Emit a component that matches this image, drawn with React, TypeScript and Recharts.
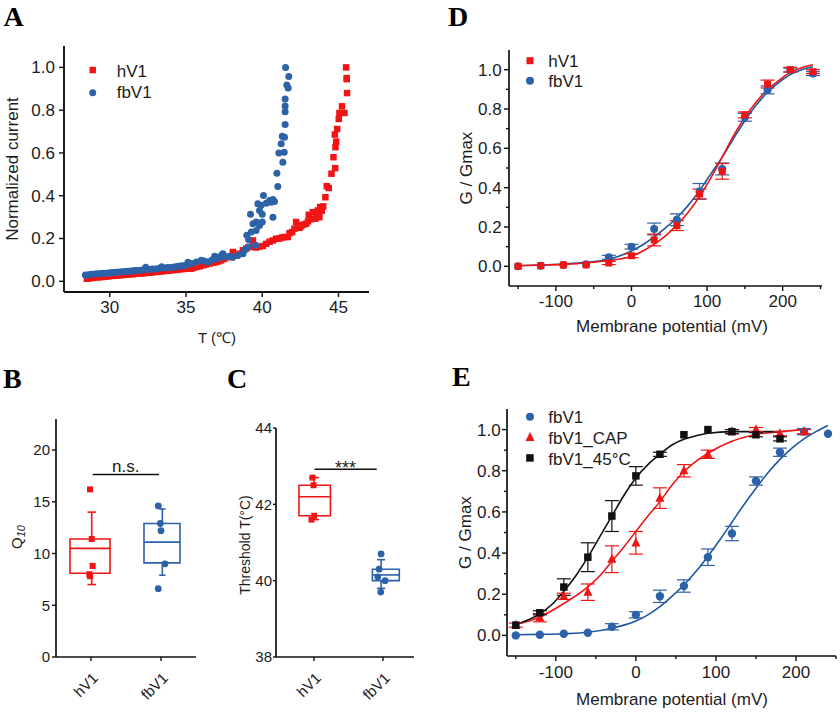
import React from 'react';
import {
  ScatterChart,
  ComposedChart,
  Scatter,
  Line,
  XAxis,
  YAxis,
  ErrorBar,
  ReferenceArea,
  ReferenceLine,
} from 'recharts';

const RED = '#f01515';
const BLUE = '#2d62a8';
const BLACK = '#111111';
const TXT = '#1c1c1c';
const SANS = '"Liberation Sans", Arial, Helvetica, sans-serif';
const SERIF = '"Liberation Serif", "Times New Roman", serif';

// ---------------- Panel A : normalized current vs temperature ----------------
const A_HV1: [number, number][] = [
  [28.5, 0.012], [28.7, 0.014], [28.9, 0.016], [29.1, 0.018], [29.3, 0.019], [29.5, 0.02], [29.7, 0.022],
  [29.9, 0.023], [30.1, 0.025], [30.3, 0.026], [30.5, 0.027], [30.7, 0.028], [30.9, 0.03], [31.1, 0.031],
  [31.3, 0.032], [31.5, 0.033], [31.7, 0.035], [31.9, 0.036], [32.1, 0.037], [32.3, 0.038], [32.5, 0.04],
  [32.7, 0.041], [32.9, 0.043], [33.1, 0.044], [33.3, 0.046], [33.5, 0.047], [33.7, 0.049], [33.9, 0.05],
  [34.1, 0.052], [34.3, 0.053], [34.5, 0.055], [34.7, 0.057], [34.9, 0.058], [35.1, 0.06], [35.35, 0.059],
  [35.5, 0.064], [35.68, 0.067], [35.9, 0.07], [36.11, 0.075], [36.3, 0.078], [36.55, 0.083], [36.8, 0.087],
  [36.99, 0.09], [37.15, 0.094], [37.31, 0.098], [37.5, 0.105], [37.64, 0.113], [37.97, 0.113], [38.07, 0.137],
  [38.29, 0.121], [38.51, 0.129], [38.73, 0.145], [38.95, 0.153], [39.17, 0.16], [39.39, 0.191], [39.39, 0.163],
  [39.6, 0.158], [39.82, 0.162], [40.04, 0.165], [40.26, 0.175], [40.48, 0.185], [40.7, 0.191], [40.91, 0.199],
  [41.13, 0.2], [41.3, 0.205], [41.46, 0.207], [41.67, 0.207], [41.79, 0.225], [41.96, 0.23], [42.11, 0.246],
  [42.22, 0.277], [42.33, 0.261], [42.45, 0.25], [42.55, 0.258], [42.7, 0.265], [42.88, 0.269], [43.0, 0.28],
  [43.05, 0.311], [43.2, 0.29], [43.31, 0.323], [43.49, 0.293], [43.6, 0.31], [43.64, 0.331], [43.75, 0.3],
  [43.8, 0.347], [43.9, 0.33], [44.0, 0.35], [44.14, 0.393], [44.23, 0.445], [44.36, 0.436], [44.54, 0.503],
  [44.67, 0.58], [44.78, 0.529], [44.8, 0.627], [44.85, 0.653], [44.76, 0.686], [44.91, 0.712], [45.02, 0.759],
  [45.06, 0.787], [45.23, 0.818], [45.39, 0.787], [45.56, 0.88], [45.54, 0.945], [45.54, 0.95], [45.5, 1.0],
];
const A_FBV1: [number, number][] = [
  [28.4, 0.03], [28.6, 0.031], [28.8, 0.033], [29.0, 0.034], [29.2, 0.035], [29.4, 0.036], [29.6, 0.038],
  [29.8, 0.038], [30.0, 0.04], [30.2, 0.041], [30.4, 0.042], [30.6, 0.043], [30.8, 0.045], [31.0, 0.046],
  [31.2, 0.047], [31.4, 0.048], [31.6, 0.05], [31.8, 0.051], [32.0, 0.052], [32.2, 0.054], [32.36, 0.066],
  [32.6, 0.055], [32.8, 0.057], [33.0, 0.058], [33.2, 0.06], [33.4, 0.068], [33.6, 0.062], [33.8, 0.064],
  [34.0, 0.065], [34.2, 0.067], [34.4, 0.069], [34.6, 0.071], [34.8, 0.073], [35.0, 0.075], [35.13, 0.089],
  [35.35, 0.083], [35.68, 0.09], [36.0, 0.098], [36.2, 0.095], [36.44, 0.09], [36.7, 0.1], [36.88, 0.117],
  [36.99, 0.106], [37.2, 0.11], [37.31, 0.121], [37.42, 0.129], [37.6, 0.115], [37.86, 0.117], [38.07, 0.113],
  [38.4, 0.121], [38.73, 0.129], [38.84, 0.145], [38.99, 0.215], [39.06, 0.16], [39.1, 0.195], [39.23, 0.313],
  [39.28, 0.23], [39.39, 0.269], [39.56, 0.168], [39.6, 0.238], [39.6, 0.277], [39.71, 0.363], [39.82, 0.261],
  [39.82, 0.331], [39.93, 0.355], [40.0, 0.277], [40.0, 0.313], [40.08, 0.401], [40.26, 0.365], [40.48, 0.378],
  [40.59, 0.37], [40.7, 0.383], [40.7, 0.3], [40.8, 0.373], [40.96, 0.505], [41.02, 0.443], [41.09, 0.6],
  [41.24, 0.643], [41.31, 0.678], [41.35, 0.557], [41.44, 0.603], [41.46, 0.673], [41.5, 0.733], [41.5, 0.793],
  [41.5, 0.82], [41.5, 0.852], [41.61, 0.918], [41.7, 0.904], [41.74, 0.958], [41.53, 1.0],
];
const A_X_TICKS = [30, 35, 40, 45];
const A_Y_TICKS = [0, 0.2, 0.4, 0.6, 0.8, 1.0];
const A_LEGEND = ['hV1', 'fbV1'];

// ---------------- Panel B : Q10 ----------------
const CATEGORIES = ['hV1', 'fbV1'];
const B_HV1 = [16.2, 11.4, 8.8, 8.0, 7.8];
const B_FBV1 = [14.6, 12.9, 12.2, 9.0, 6.6];
const B_HV1_JITTER = [0.486, 0.51, 0.524, 0.476, 0.486];
const B_FBV1_JITTER = [1.461, 1.49, 1.5, 1.557, 1.461];
const B_STATS = [
  { min: 7.0, q1: 8.1, median: 10.5, q3: 11.4, max: 14.0 },
  { min: 7.9, q1: 9.1, median: 11.1, q3: 12.9, max: 14.3 },
];
const B_Y_TICKS = [0, 5, 10, 15, 20];
const B_SIG = { label: 'n.s.', from: 0.524, to: 1.471, level: 17.64 };

// ---------------- Panel C : threshold temperature ----------------
const C_HV1 = [42.7, 42.5, 41.7, 41.6];
const C_FBV1 = [40.7, 40.3, 40.1, 40.0, 39.7];
const C_HV1_JITTER = [0.479, 0.494, 0.504, 0.465];
const C_FBV1_JITTER = [1.473, 1.444, 1.425, 1.531, 1.468];
const C_STATS = [
  { min: 41.6, q1: 41.7, median: 42.2, q3: 42.5, max: 42.7 },
  { min: 39.8, q1: 40.0, median: 40.15, q3: 40.3, max: 40.55 },
];
const C_Y_TICKS = [38, 40, 42, 44];
const C_SIG = { label: '***', from: 0.508, to: 1.41, level: 42.92 };

// ---------------- Panel D : G/Gmax hV1 vs fbV1 ----------------
const D_VOLT = [-150, -120, -90, -60, -30, 0, 30, 60, 90, 120, 150, 180, 210, 240];
const D_HV1 = [0, 0.003, 0.007, 0.007, 0.017, 0.054, 0.134, 0.207, 0.368, 0.483, 0.77, 0.927, 1.0, 0.99];
const D_HV1_ERR = [0, 0, 0, 0, 0.008, 0.01, 0.03, 0.025, 0.025, 0.04, 0.015, 0.02, 0.012, 0.01];
const D_FBV1 = [0, 0.003, 0.007, 0.01, 0.046, 0.1, 0.19, 0.237, 0.381, 0.495, 0.758, 0.897, 0.998, 0.98];
const D_FBV1_ERR = [0, 0, 0, 0, 0.01, 0.012, 0.03, 0.03, 0.04, 0.03, 0.02, 0.02, 0.01, 0.01];
const D_FIT_HV1: [number, number][] = [
  [-150, 0.003], [-120, 0.006], [-90, 0.01], [-60, 0.017], [-30, 0.03], [0, 0.051], [15, 0.078], [30, 0.113],
  [45, 0.155], [60, 0.21], [75, 0.275], [90, 0.355], [105, 0.45], [120, 0.555], [135, 0.665], [150, 0.757],
  [165, 0.835], [180, 0.9], [195, 0.945], [210, 0.986], [225, 1.01], [240, 1.025],
];
const D_FIT_FBV1: [number, number][] = [
  [-150, 0.004], [-120, 0.007], [-90, 0.012], [-60, 0.02], [-30, 0.036], [0, 0.078], [15, 0.11], [30, 0.15],
  [45, 0.195], [60, 0.247], [75, 0.31], [90, 0.385], [105, 0.47], [120, 0.555], [135, 0.65], [150, 0.74],
  [165, 0.82], [180, 0.885], [195, 0.935], [210, 0.975], [225, 1.0], [240, 1.015],
];
const D_LEGEND = ['hV1', 'fbV1'];

// ---------------- Panel E : fbV1, CAP, 45°C ----------------
const E_VOLT_FB = [-150, -120, -90, -60, -30, 0, 30, 60, 90, 120, 150, 180, 210, 240];
const E_FB = [0, 0.003, 0.008, 0.013, 0.042, 0.1, 0.19, 0.24, 0.38, 0.495, 0.75, 0.89, 0.99, 0.98];
const E_FB_ERR = [0, 0, 0, 0, 0.015, 0.015, 0.03, 0.03, 0.04, 0.035, 0.02, 0.02, 0.015, 0];
const E_VOLT_CAP = [-150, -120, -90, -60, -30, 0, 30, 60, 90, 120, 150, 180, 210];
const E_CAP = [0.05, 0.086, 0.19, 0.21, 0.37, 0.45, 0.667, 0.8, 0.88, 0.99, 1.0, 0.98, 0.99];
const E_CAP_ERR = [0.01, 0.02, 0.015, 0.04, 0.065, 0.055, 0.05, 0.03, 0.02, 0.01, 0.01, 0.01, 0.01];
const E_VOLT_45 = [-150, -120, -90, -60, -30, 0, 30, 60, 90, 120, 150, 180];
const E_45 = [0.05, 0.11, 0.235, 0.38, 0.58, 0.775, 0.88, 0.975, 1.0, 0.99, 0.975, 0.955];
const E_45_ERR = [0, 0.01, 0.04, 0.07, 0.075, 0.045, 0.01, 0, 0, 0.01, 0.01, 0.01];
const E_FIT_FB: [number, number][] = [
  [-150, 0.003], [-120, 0.005], [-90, 0.008], [-60, 0.015], [-30, 0.035], [0, 0.07], [15, 0.1], [30, 0.14],
  [45, 0.19], [60, 0.245], [75, 0.31], [90, 0.385], [105, 0.465], [120, 0.55], [135, 0.635], [150, 0.715],
  [165, 0.79], [180, 0.855], [195, 0.91], [210, 0.955], [225, 0.99], [240, 1.02],
];
const E_FIT_CAP: [number, number][] = [
  [-150, 0.053], [-120, 0.09], [-90, 0.155], [-60, 0.236], [-45, 0.29], [-30, 0.36], [-15, 0.43], [0, 0.505],
  [15, 0.58], [30, 0.65], [45, 0.73], [60, 0.795], [75, 0.845], [90, 0.885], [120, 0.943], [150, 0.976],
  [180, 0.99], [210, 1.0],
];
const E_FIT_45: [number, number][] = [
  [-150, 0.053], [-135, 0.075], [-120, 0.105], [-105, 0.15], [-90, 0.215], [-75, 0.29], [-60, 0.38], [-45, 0.48],
  [-30, 0.58], [-15, 0.68], [0, 0.765], [15, 0.83], [30, 0.88], [45, 0.925], [60, 0.953], [75, 0.97], [90, 0.982],
  [120, 0.99], [150, 0.99], [180, 0.99],
];
const E_LEGEND = ['fbV1', 'fbV1_CAP', 'fbV1_45°C'];

const V_MAJOR = [-100, 0, 100, 200];
const V_TICKS = [-150, -100, -50, 0, 50, 100, 150, 200, 250];
const G_MAJOR = [0, 0.2, 0.4, 0.6, 0.8, 1.0];
const G_TICKS = [0, 0.1, 0.2, 0.3, 0.4, 0.5, 0.6, 0.7, 0.8, 0.9, 1.0];

// ---------------- helpers ----------------
const pairs = (p: [number, number][]) => p.map(([x, y]) => ({ x, y }));
const zipErr = (xs: number[], ys: number[], es: number[]) => xs.map((x, i) => ({ x, y: ys[i], e: es[i] }));
const jitterPts = (xs: number[], ys: number[]) => ys.map((y, i) => ({ x: xs[i], y }));

const isIn = (arr: number[], v: number) => arr.some((m) => Math.abs(m - v) < 1e-6);
const f1 = (v: number) => v.toFixed(1);
const f0 = (v: number) => String(v);

function bottomTick(majors: number[], fmt: (v: number) => string, len: number, minor: number, base: number, fs: number) {
  return (props: any) => {
    const { x, y, payload } = props;
    const v = Number(payload.value);
    const major = isIn(majors, v);
    return (
      <g>
        <line x1={x} x2={x} y1={y} y2={y + (major ? len : minor)} stroke={BLACK} strokeWidth={1.4} />
        {major ? (
          <text x={x} y={y + base} textAnchor="middle" fontSize={fs} fontFamily={SANS} fill={TXT}>
            {fmt(v)}
          </text>
        ) : null}
      </g>
    );
  };
}

function leftTick(majors: number[], fmt: (v: number) => string, len: number, minor: number, gap: number, fs: number) {
  return (props: any) => {
    const { x, y, payload } = props;
    const v = Number(payload.value);
    const major = isIn(majors, v);
    return (
      <g>
        <line x1={x} x2={x - (major ? len : minor)} y1={y} y2={y} stroke={BLACK} strokeWidth={1.4} />
        {major ? (
          <text x={x - gap} y={y + fs * 0.35} textAnchor="end" fontSize={fs} fontFamily={SANS} fill={TXT}>
            {fmt(v)}
          </text>
        ) : null}
      </g>
    );
  };
}

function catTick(len: number, fs: number) {
  return (props: any) => {
    const { x, y, payload } = props;
    const idx = Math.round(Number(payload.value) - 0.5);
    const tx = x + 8;
    const ty = y + 22;
    return (
      <g>
        <line x1={x} x2={x} y1={y} y2={y + len} stroke={BLACK} strokeWidth={1.4} />
        <text x={tx} y={ty} textAnchor="end" fontSize={fs} fontFamily={SANS} fill={TXT} transform={`rotate(-45 ${tx} ${ty})`}>
          {CATEGORIES[idx]}
        </text>
      </g>
    );
  };
}

const square = (color: string, s: number) => (p: any) =>
  p.cx == null ? <g /> : <rect x={p.cx - s / 2} y={p.cy - s / 2} width={s} height={s} fill={color} />;
const circle = (color: string, r: number) => (p: any) =>
  p.cx == null ? <g /> : <circle cx={p.cx} cy={p.cy} r={r} fill={color} />;
const triangle = (color: string, s: number) => (p: any) =>
  p.cx == null ? (
    <g />
  ) : (
    <polygon
      points={`${p.cx},${p.cy - s * 0.6} ${p.cx - s / 2},${p.cy + s * 0.4} ${p.cx + s / 2},${p.cy + s * 0.4}`}
      fill={color}
    />
  );
const textMark = (label: string, dy: number, fs: number) => (p: any) =>
  p.cx == null ? (
    <g />
  ) : (
    <text x={p.cx} y={p.cy + dy} textAnchor="middle" fontSize={fs} fontFamily={SANS} fill={TXT}>
      {label}
    </text>
  );

type Stats = { min: number; q1: number; median: number; q3: number; max: number };
type BoxLayout = { center: number; half: number; whisker: number; cap: number };

function boxElements(key: string, s: Stats, l: BoxLayout, color: string, sw: number) {
  const seg = (k: string, x1: number, y1: number, x2: number, y2: number) => (
    <ReferenceLine
      key={`${key}-${k}`}
      segment={[{ x: x1, y: y1 }, { x: x2, y: y2 }]}
      stroke={color}
      strokeWidth={sw}
      ifOverflow="visible"
    />
  );
  return [
    <ReferenceArea
      key={`${key}-box`}
      x1={l.center - l.half}
      x2={l.center + l.half}
      y1={s.q1}
      y2={s.q3}
      fill="none"
      fillOpacity={0}
      stroke={color}
      strokeWidth={sw}
      ifOverflow="visible"
    />,
    seg('med', l.center - l.half, s.median, l.center + l.half, s.median),
    seg('wu', l.whisker, s.q3, l.whisker, s.max),
    seg('cu', l.whisker - l.cap, s.max, l.whisker + l.cap, s.max),
    seg('wd', l.whisker, s.q1, l.whisker, s.min),
    seg('cd', l.whisker - l.cap, s.min, l.whisker + l.cap, s.min),
  ];
}

const B_LAYOUT: BoxLayout[] = [
  { center: 0.486, half: 0.286, whisker: 0.51, cap: 0.06 },
  { center: 1.514, half: 0.257, whisker: 1.519, cap: 0.046 },
];
const C_LAYOUT: BoxLayout[] = [
  { center: 0.511, half: 0.228, whisker: 0.5, cap: 0.072 },
  { center: 1.542, half: 0.195, whisker: 1.473, cap: 0.06 },
];

const axisLine = { stroke: BLACK, strokeWidth: 1.7 };

export default function App() {
  return (
    <div style={{ position: 'absolute', left: 0, top: 0, width: 840, height: 712, background: '#ffffff', overflow: 'hidden' }}>
      {/* Panel A */}
      <div style={{ position: 'absolute', left: 0, top: 0 }}>
        <ScatterChart width={380} height={320} margin={{ top: 46, right: 11, bottom: 0, left: 14 }}>
          <XAxis
            type="number"
            dataKey="x"
            domain={[27, 47]}
            ticks={A_X_TICKS}
            interval={0}
            allowDataOverflow
            height={28}
            tickSize={0}
            tickMargin={0}
            tickLine={false}
            axisLine={{ stroke: BLACK, strokeWidth: 1.9 }}
            tick={bottomTick(A_X_TICKS, f0, 5, 3, 21.3, 17)}
          />
          <YAxis
            type="number"
            dataKey="y"
            domain={[-0.05, 1.1]}
            ticks={A_Y_TICKS}
            interval={0}
            allowDataOverflow
            width={50}
            tickSize={0}
            tickMargin={0}
            tickLine={false}
            axisLine={{ stroke: BLACK, strokeWidth: 1.9 }}
            tick={leftTick(A_Y_TICKS, f1, 5, 3, 9, 17)}
          />
          <Scatter data={pairs(A_HV1)} shape={square(RED, 6.5)} isAnimationActive={false} />
          <Scatter data={pairs(A_FBV1)} shape={circle(BLUE, 3.5)} isAnimationActive={false} />
        </ScatterChart>
      </div>

      {/* Panel D */}
      <div style={{ position: 'absolute', left: 420, top: 0 }}>
        <ComposedChart width={420} height={320} margin={{ top: 50, right: 18, bottom: 0, left: 39 }}>
          <XAxis
            type="number"
            dataKey="x"
            domain={[-162, 252]}
            ticks={V_TICKS}
            interval={0}
            allowDataOverflow
            height={34}
            tickSize={0}
            tickMargin={0}
            tickLine={false}
            axisLine={axisLine}
            tick={bottomTick(V_MAJOR, f0, 5, 3, 20.7, 17)}
          />
          <YAxis
            type="number"
            dataKey="y"
            domain={[-0.1, 1.1]}
            ticks={G_TICKS}
            interval={0}
            allowDataOverflow
            width={50}
            tickSize={0}
            tickMargin={0}
            tickLine={false}
            axisLine={axisLine}
            tick={leftTick(G_MAJOR, f1, 5, 3, 7.3, 17)}
          />
          <Line data={pairs(D_FIT_FBV1)} dataKey="y" type="monotone" dot={false} stroke="#1f57a0" strokeWidth={1.6} isAnimationActive={false} />
          <Line data={pairs(D_FIT_HV1)} dataKey="y" type="monotone" dot={false} stroke={RED} strokeWidth={1.6} isAnimationActive={false} />
          <Scatter data={zipErr(D_VOLT, D_FBV1, D_FBV1_ERR)} shape={circle(BLUE, 4)} isAnimationActive={false}>
            <ErrorBar dataKey="e" direction="y" width={7} stroke={BLUE} strokeWidth={1.2} />
          </Scatter>
          <Scatter data={zipErr(D_VOLT, D_HV1, D_HV1_ERR)} shape={square(RED, 7)} isAnimationActive={false}>
            <ErrorBar dataKey="e" direction="y" width={7} stroke={RED} strokeWidth={1.2} />
          </Scatter>
        </ComposedChart>
      </div>

      {/* Panel B */}
      <div style={{ position: 'absolute', left: 0, top: 360 }}>
        <ScatterChart width={210} height={352} margin={{ top: 59, right: 14, bottom: 0, left: 16 }}>
          <XAxis
            type="number"
            dataKey="x"
            domain={[0, 2]}
            ticks={[0.5, 1.5]}
            interval={0}
            allowDataOverflow
            height={55}
            tickSize={0}
            tickMargin={0}
            tickLine={false}
            axisLine={axisLine}
            tick={catTick(4, 15)}
          />
          <YAxis
            type="number"
            dataKey="y"
            domain={[0, 23]}
            ticks={B_Y_TICKS}
            interval={0}
            allowDataOverflow
            width={40}
            tickSize={0}
            tickMargin={0}
            tickLine={false}
            axisLine={axisLine}
            tick={leftTick(B_Y_TICKS, f0, 4, 2, 6, 15)}
          />
          {boxElements('bh', B_STATS[0], B_LAYOUT[0], RED, 1.6)}
          {boxElements('bf', B_STATS[1], B_LAYOUT[1], BLUE, 1.6)}
          <ReferenceLine
            segment={[{ x: B_SIG.from, y: B_SIG.level }, { x: B_SIG.to, y: B_SIG.level }]}
            stroke={BLACK}
            strokeWidth={1.4}
            ifOverflow="visible"
          />
          <Scatter data={jitterPts(B_HV1_JITTER, B_HV1)} shape={square(RED, 6)} isAnimationActive={false} />
          <Scatter data={jitterPts(B_FBV1_JITTER, B_FBV1)} shape={circle(BLUE, 3.4)} isAnimationActive={false} />
          <Scatter
            data={[{ x: (B_SIG.from + B_SIG.to) / 2, y: B_SIG.level }]}
            shape={textMark(B_SIG.label, -2.8, 17)}
            isAnimationActive={false}
          />
        </ScatterChart>
      </div>

      {/* Panel C */}
      <div style={{ position: 'absolute', left: 210, top: 360 }}>
        <ScatterChart width={210} height={352} margin={{ top: 68, right: 6, bottom: 0, left: 21 }}>
          <XAxis
            type="number"
            dataKey="x"
            domain={[-0.05, 1.95]}
            ticks={[0.5, 1.5]}
            interval={0}
            allowDataOverflow
            height={55}
            tickSize={0}
            tickMargin={0}
            tickLine={false}
            axisLine={axisLine}
            tick={catTick(4, 15)}
          />
          <YAxis
            type="number"
            dataKey="y"
            domain={[38, 44]}
            ticks={C_Y_TICKS}
            interval={0}
            allowDataOverflow
            width={45}
            tickSize={0}
            tickMargin={0}
            tickLine={false}
            axisLine={axisLine}
            tick={leftTick(C_Y_TICKS, f0, 3, 2, 4, 15)}
          />
          {boxElements('ch', C_STATS[0], C_LAYOUT[0], RED, 1.6)}
          {boxElements('cf', C_STATS[1], C_LAYOUT[1], BLUE, 1.6)}
          <ReferenceLine
            segment={[{ x: C_SIG.from, y: C_SIG.level }, { x: C_SIG.to, y: C_SIG.level }]}
            stroke={BLACK}
            strokeWidth={1.4}
            ifOverflow="visible"
          />
          <Scatter data={jitterPts(C_HV1_JITTER, C_HV1)} shape={square(RED, 6)} isAnimationActive={false} />
          <Scatter data={jitterPts(C_FBV1_JITTER, C_FBV1)} shape={circle(BLUE, 3.4)} isAnimationActive={false} />
          <Scatter
            data={[{ x: (C_SIG.from + C_SIG.to) / 2, y: C_SIG.level }]}
            shape={textMark(C_SIG.label, 5, 18)}
            isAnimationActive={false}
          />
        </ScatterChart>
      </div>

      {/* Panel E */}
      <div style={{ position: 'absolute', left: 420, top: 360 }}>
        <ComposedChart width={420} height={352} margin={{ top: 49, right: 4, bottom: 0, left: 37 }}>
          <XAxis
            type="number"
            dataKey="x"
            domain={[-161, 250]}
            ticks={V_TICKS}
            interval={0}
            allowDataOverflow
            height={56}
            tickSize={0}
            tickMargin={0}
            tickLine={false}
            axisLine={axisLine}
            tick={bottomTick(V_MAJOR, f0, 5, 3, 22.3, 17)}
          />
          <YAxis
            type="number"
            dataKey="y"
            domain={[-0.1, 1.1]}
            ticks={G_TICKS}
            interval={0}
            allowDataOverflow
            width={50}
            tickSize={0}
            tickMargin={0}
            tickLine={false}
            axisLine={axisLine}
            tick={leftTick(G_MAJOR, f1, 5, 3, 6.3, 17)}
          />
          <Line data={pairs(E_FIT_FB)} dataKey="y" type="monotone" dot={false} stroke="#1f57a0" strokeWidth={1.6} isAnimationActive={false} />
          <Line data={pairs(E_FIT_CAP)} dataKey="y" type="monotone" dot={false} stroke={RED} strokeWidth={1.6} isAnimationActive={false} />
          <Line data={pairs(E_FIT_45)} dataKey="y" type="monotone" dot={false} stroke={BLACK} strokeWidth={1.6} isAnimationActive={false} />
          <Scatter data={zipErr(E_VOLT_FB, E_FB, E_FB_ERR)} shape={circle(BLUE, 4.2)} isAnimationActive={false}>
            <ErrorBar dataKey="e" direction="y" width={7} stroke={BLUE} strokeWidth={1.2} />
          </Scatter>
          <Scatter data={zipErr(E_VOLT_CAP, E_CAP, E_CAP_ERR)} shape={triangle(RED, 9)} isAnimationActive={false}>
            <ErrorBar dataKey="e" direction="y" width={7} stroke={RED} strokeWidth={1.2} />
          </Scatter>
          <Scatter data={zipErr(E_VOLT_45, E_45, E_45_ERR)} shape={square(BLACK, 7.5)} isAnimationActive={false}>
            <ErrorBar dataKey="e" direction="y" width={7} stroke={BLACK} strokeWidth={1.2} />
          </Scatter>
        </ComposedChart>
      </div>

      {/* Letters, axis titles and legends */}
      <svg width={840} height={712} style={{ position: 'absolute', left: 0, top: 0, pointerEvents: 'none' }}>
        <g fontFamily={SERIF} fontWeight="bold" fontSize={28} fill="#000">
          <text x={3.5} y={26}>A</text>
          <text x={448} y={26}>D</text>
          <text x={3} y={388}>B</text>
          <text x={227} y={387.5}>C</text>
          <text x={452} y={386}>E</text>
        </g>
        <g fontFamily={SANS} fill={TXT}>
          <text x={217} y={342.5} fontSize={15} textAnchor="middle">T (℃)</text>
          <text x={18} y={169} fontSize={17} textAnchor="middle" transform="rotate(-90 18 169)">Normalized current</text>
          <text x={672} y={332} fontSize={17} textAnchor="middle">Membrane potential (mV)</text>
          <text x={472} y={168} fontSize={17} textAnchor="middle" transform="rotate(-90 472 168)">G / Gmax</text>
          <text x={672} y={705} fontSize={17} textAnchor="middle">Membrane potential (mV)</text>
          <text x={471} y={532.5} fontSize={17} textAnchor="middle" transform="rotate(-90 471 532.5)">G / Gmax</text>
          <text x={21.5} y={537} fontSize={15} textAnchor="middle" transform="rotate(-90 21.5 537)">
            Q<tspan fontSize={11} fontStyle="italic" dy={3}>10</tspan>
          </text>
          <text x={250} y={545} fontSize={14} textAnchor="middle" transform="rotate(-90 250 545)">Threshold T(°C)</text>

          {/* Legend A */}
          <rect x={89.5} y={66.8} width={6.5} height={6.5} fill={RED} />
          <circle cx={92.7} cy={92.7} r={3.5} fill={BLUE} />
          <text x={116.7} y={76.7} fontSize={17}>{A_LEGEND[0]}</text>
          <text x={116.7} y={98.3} fontSize={17}>{A_LEGEND[1]}</text>

          {/* Legend D */}
          <rect x={526.5} y={57.2} width={7} height={7} fill={RED} />
          <circle cx={530} cy={80.7} r={4} fill={BLUE} />
          <text x={548.3} y={66.7} fontSize={17}>{D_LEGEND[0]}</text>
          <text x={548.3} y={87.3} fontSize={17}>{D_LEGEND[1]}</text>

          {/* Legend E */}
          <circle cx={530} cy={416.7} r={4} fill={BLUE} />
          <polygon points="530,431.9 525.5,440.9 534.5,440.9" fill={RED} />
          <rect x={526.2} y={454.2} width={7.5} height={7.5} fill={BLACK} />
          <text x={548.3} y={423.3} fontSize={17}>{E_LEGEND[0]}</text>
          <text x={548.3} y={444} fontSize={17}>{E_LEGEND[1]}</text>
          <text x={548.3} y={465} fontSize={17}>{E_LEGEND[2]}</text>
        </g>
      </svg>
    </div>
  );
}
